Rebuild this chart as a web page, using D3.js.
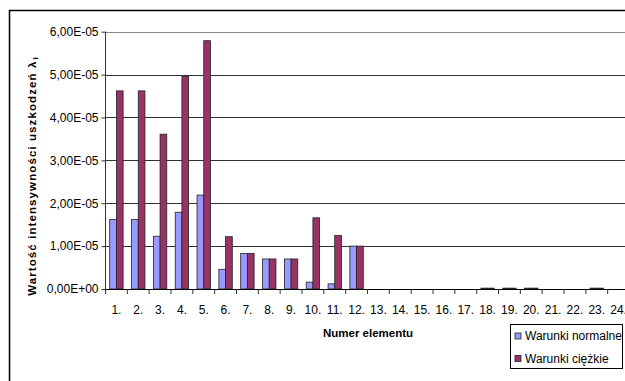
<!DOCTYPE html>
<html>
<head>
<meta charset="utf-8">
<script src="https://cdn.jsdelivr.net/npm/d3@7"></script>
<style>
  html, body { margin: 0; padding: 0; background: #fff; overflow: hidden; }
  svg { display: block; font-family: "Liberation Sans", Arial, sans-serif; }
</style>
</head>
<body>
<svg id="chart" width="625" height="381"></svg>
<script>
// Element numbers 1..24
const categories = d3.range(1, 25).map(i => i + ".");

// Failure intensity per element
const normalne = [1.62e-5, 1.62e-5, 1.23e-5, 1.79e-5, 2.19e-5, 0.46e-5, 0.83e-5, 0.70e-5, 0.70e-5, 0.16e-5, 0.12e-5, 1.00e-5,
                  0, 0, 0, 0, 0, 2e-7, 2e-7, 2e-7, 0, 0, 2e-7, 0];
const ciezkie  = [4.62e-5, 4.62e-5, 3.61e-5, 4.96e-5, 5.79e-5, 1.22e-5, 0.83e-5, 0.70e-5, 0.70e-5, 1.66e-5, 1.25e-5, 1.00e-5,
                  0, 0, 0, 0, 0, 2e-7, 2e-7, 2e-7, 0, 0, 2e-7, 0];

const seriesNames = ["Warunki normalne", "Warunki ciężkie"];
const seriesColors = ["#9999ff", "#993366"];
const yTicks = [0, 1e-5, 2e-5, 3e-5, 4e-5, 5e-5, 6e-5];

const svg = d3.select("#chart");

// Outer chart frame (continues past the right and bottom edges)
svg.append("rect")
  .attr("x", 9.5).attr("y", 10.5)
  .attr("width", 640).attr("height", 400)
  .attr("fill", "#fff").attr("stroke", "#000").attr("stroke-width", 1.5);

const plot = { left: 105.5, right: 629.5, top: 31.7, bottom: 289 };

const x = d3.scaleBand().domain(categories).range([plot.left, plot.right]).padding(0);
const y = d3.scaleLinear().domain([0, 6e-5]).range([plot.bottom, plot.top]);
const barW = 6.7;
const inner = d3.scaleBand().domain([0, 1]).range([0, barW * 2]);

const fmt = v => v === 0 ? "0,00E+00" : (v / 1e-5).toFixed(2).replace(".", ",") + "E-05";

// Gridlines
svg.append("g").selectAll("line").data(yTicks.slice(1)).join("line")
  .attr("x1", plot.left).attr("x2", plot.right)
  .attr("y1", d => Math.round(y(d)) + 0.5).attr("y2", d => Math.round(y(d)) + 0.5)
  .attr("stroke", d => d === 6e-5 ? "#888" : "#333").attr("stroke-width", 1);

// Bars
const groups = svg.append("g").selectAll("g").data(categories).join("g")
  .attr("transform", d => `translate(${x(d) + (x.bandwidth() - barW * 2) / 2},0)`);
[normalne, ciezkie].forEach((vals, si) => {
  groups.append("rect")
    .attr("x", inner(si))
    .attr("width", barW)
    .attr("y", (d, i) => y(vals[i]))
    .attr("height", (d, i) => y(0) - y(vals[i]))
    .attr("fill", seriesColors[si])
    .attr("stroke", "#222").attr("stroke-width", 0.8);
});

// Y axis
const yAxis = d3.axisLeft(y).tickValues(yTicks).tickFormat(fmt).tickSize(4).tickPadding(3);
const gy = svg.append("g").attr("transform", `translate(${plot.left},0)`).call(yAxis);
gy.select(".domain").attr("stroke", "#333").attr("d", `M0,${plot.top}V${plot.bottom}`);
gy.selectAll(".tick line").attr("stroke", "#333");
gy.selectAll("text").attr("font-size", 12).attr("fill", "#000")
  .attr("font-family", "'Liberation Sans', Arial, sans-serif");

// X axis with ticks at category boundaries
const gx = svg.append("g").attr("transform", `translate(0,${plot.bottom})`);
gx.append("line").attr("x1", plot.left).attr("x2", plot.right)
  .attr("y1", 0.5).attr("y2", 0.5).attr("stroke", "#000").attr("stroke-width", 1.2);
gx.selectAll("line.tk").data(categories.concat(["end"])).join("line").attr("class", "tk")
  .attr("x1", (d, i) => plot.left + i * x.bandwidth()).attr("x2", (d, i) => plot.left + i * x.bandwidth())
  .attr("y1", 0).attr("y2", 5).attr("stroke", "#333");
gx.selectAll("text").data(categories).join("text")
  .attr("x", d => x(d) + x.bandwidth() / 2)
  .attr("y", 25)
  .attr("text-anchor", "middle")
  .attr("font-size", 12)
  .text(d => d);

// Axis titles
svg.append("text")
  .attr("x", 368).attr("y", 337)
  .attr("text-anchor", "middle")
  .attr("font-size", 11.5).attr("font-weight", "bold")
  .text("Numer elementu");

const yt = svg.append("text")
  .attr("transform", "translate(36,176) rotate(-90)")
  .attr("text-anchor", "middle")
  .attr("font-size", 11.5).attr("font-weight", "bold")
  .attr("letter-spacing", 1.1);
yt.append("tspan").text("Wartość intensywności uszkodzeń λ");
yt.append("tspan").attr("font-size", 8).attr("dy", 2).attr("dx", 1).text("i");

// Legend
const lg = svg.append("g");
lg.append("rect").attr("x", 510.5).attr("y", 324.5).attr("width", 112).attr("height", 44)
  .attr("fill", "#fff").attr("stroke", "#000").attr("stroke-width", 1);
seriesNames.forEach((name, i) => {
  const cy = 335 + i * 22.5;
  lg.append("rect").attr("x", 515).attr("y", cy - 2).attr("width", 6).attr("height", 6)
    .attr("fill", seriesColors[i]).attr("stroke", "#222").attr("stroke-width", 0.8);
  lg.append("text").attr("x", 525).attr("y", cy + 5).attr("font-size", 12).text(name);
});
</script>
</body>
</html>
